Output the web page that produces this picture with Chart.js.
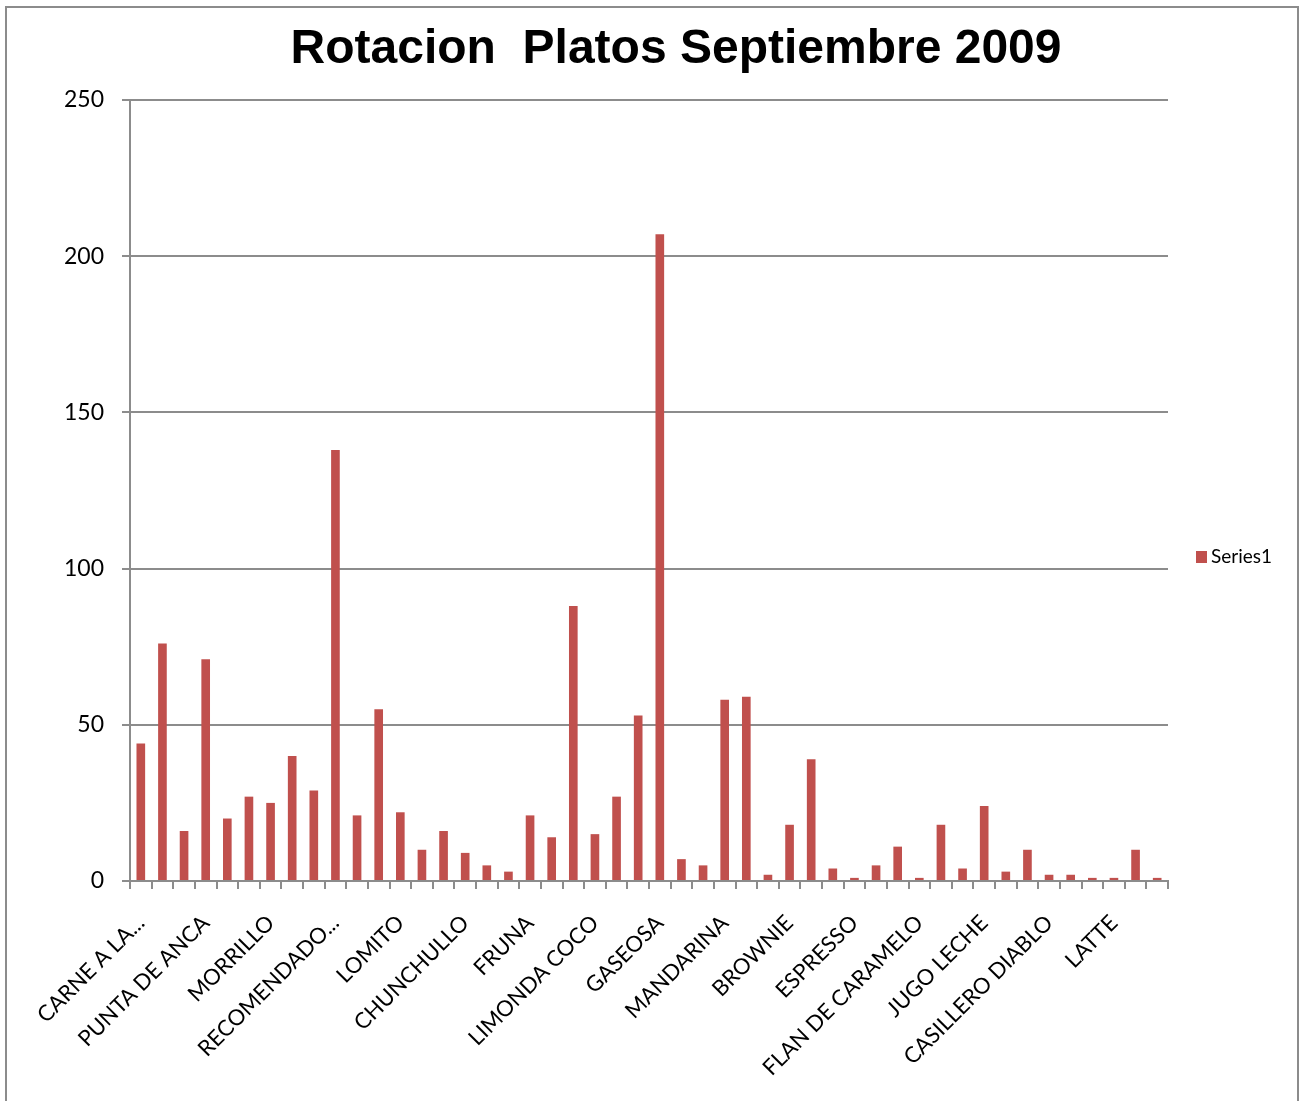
<!DOCTYPE html>
<html lang="es">
<head>
  <meta charset="UTF-8" />
  <title>Rotacion Platos Septiembre 2009</title>
  <style>
    body {
      margin: 0;
      background: #fff;
    }
    #wrap {
      width: 1304px;
      height: 1101px;
    }
  </style>
</head>
<body>
  <div id="wrap">
    <canvas id="rotacion" width="1304" height="1101"></canvas>
  </div>

  <script src="https://cdn.jsdelivr.net/npm/chart.js"></script>
  <script>
    // platos: only every third name is printed on the axis
    const platos = [
      'CARNE A LA...', '', '', 'PUNTA DE ANCA', '', '', 'MORRILLO', '', '',
      'RECOMENDADO...', '', '', 'LOMITO', '', '', 'CHUNCHULLO', '', '',
      'FRUNA', '', '', 'LIMONDA COCO', '', '', 'GASEOSA', '', '',
      'MANDARINA', '', '', 'BROWNIE', '', '', 'ESPRESSO', '', '',
      'FLAN DE CARAMELO', '', '', 'JUGO LECHE', '', '', 'CASILLERO DIABLO', '', '',
      'LATTE', '', ''
    ];
    const series1 = [
      44, 76, 16, 71, 20, 27, 25, 40, 29, 138, 21, 55,
      22, 10, 16, 9, 5, 3, 21, 14, 88, 15, 27, 53,
      207, 7, 5, 58, 59, 2, 18, 39, 4, 1, 5, 11,
      1, 18, 4, 24, 3, 10, 2, 2, 1, 1, 10, 1
    ];
    const yTicks = [0, 50, 100, 150, 200, 250];

    const titulo = 'Rotacion  Platos Septiembre 2009';
    const gris = '#8c8c8c';
    const rojo = '#c0504d';
    const fuente = 'Lato, "Open Sans", sans-serif';

    // frame, title and legend drawn around the plot
    const marco = {
      id: 'marco',
      beforeDraw(chart) {
        const ctx = chart.ctx;
        ctx.save();
        ctx.fillStyle = '#fff';
        ctx.fillRect(0, 0, chart.width, chart.height);
        ctx.strokeStyle = gris;
        ctx.lineWidth = 2;
        ctx.strokeRect(6, 7, 1292, 1200);
        ctx.restore();
      },
      afterDraw(chart) {
        const ctx = chart.ctx;
        ctx.save();
        ctx.fillStyle = '#000';
        ctx.font = 'bold 48px "Liberation Sans", Arial, sans-serif';
        ctx.textAlign = 'center';
        ctx.textBaseline = 'alphabetic';
        ctx.fillText(titulo, 676, 63);

        ctx.fillStyle = rojo;
        ctx.fillRect(1196, 551, 11, 12);
        ctx.fillStyle = '#000';
        ctx.font = '19px ' + fuente;
        ctx.textAlign = 'left';
        ctx.textBaseline = 'middle';
        ctx.fillText(chart.data.datasets[0].label, 1211, 557);
        ctx.restore();
      }
    };

    new Chart(document.getElementById('rotacion'), {
      type: 'bar',
      data: {
        labels: platos,
        datasets: [{
          label: 'Series1',
          data: series1,
          backgroundColor: rojo,
          categoryPercentage: 1,
          barPercentage: 0.4
        }]
      },
      options: {
        responsive: false,
        animation: false,
        layout: {
          padding: { left: 0, top: 100, right: 136, bottom: 0 }
        },
        plugins: {
          legend: { display: false },
          title: { display: false },
          tooltip: { enabled: false }
        },
        scales: {
          x: {
            afterFit(scale) { scale.height = 220; },
            grid: {
              drawOnChartArea: false,
              color: gris,
              lineWidth: 2,
              tickLength: 8
            },
            border: { color: gris, width: 2 },
            ticks: {
              autoSkip: false,
              minRotation: 45,
              maxRotation: 45,
              padding: 21,
              color: '#000',
              font: { family: fuente, size: 22 }
            }
          },
          y: {
            min: 0,
            max: 250,
            afterFit(scale) { scale.width = 130; },
            afterBuildTicks(scale) {
              scale.ticks = yTicks.map(v => ({ value: v }));
            },
            grid: {
              color: gris,
              lineWidth: 2,
              tickLength: 8
            },
            border: { color: gris, width: 2 },
            ticks: {
              padding: 18,
              color: '#000',
              font: { family: fuente, size: 23 }
            }
          }
        }
      },
      plugins: [marco]
    });
  </script>
</body>
</html>
